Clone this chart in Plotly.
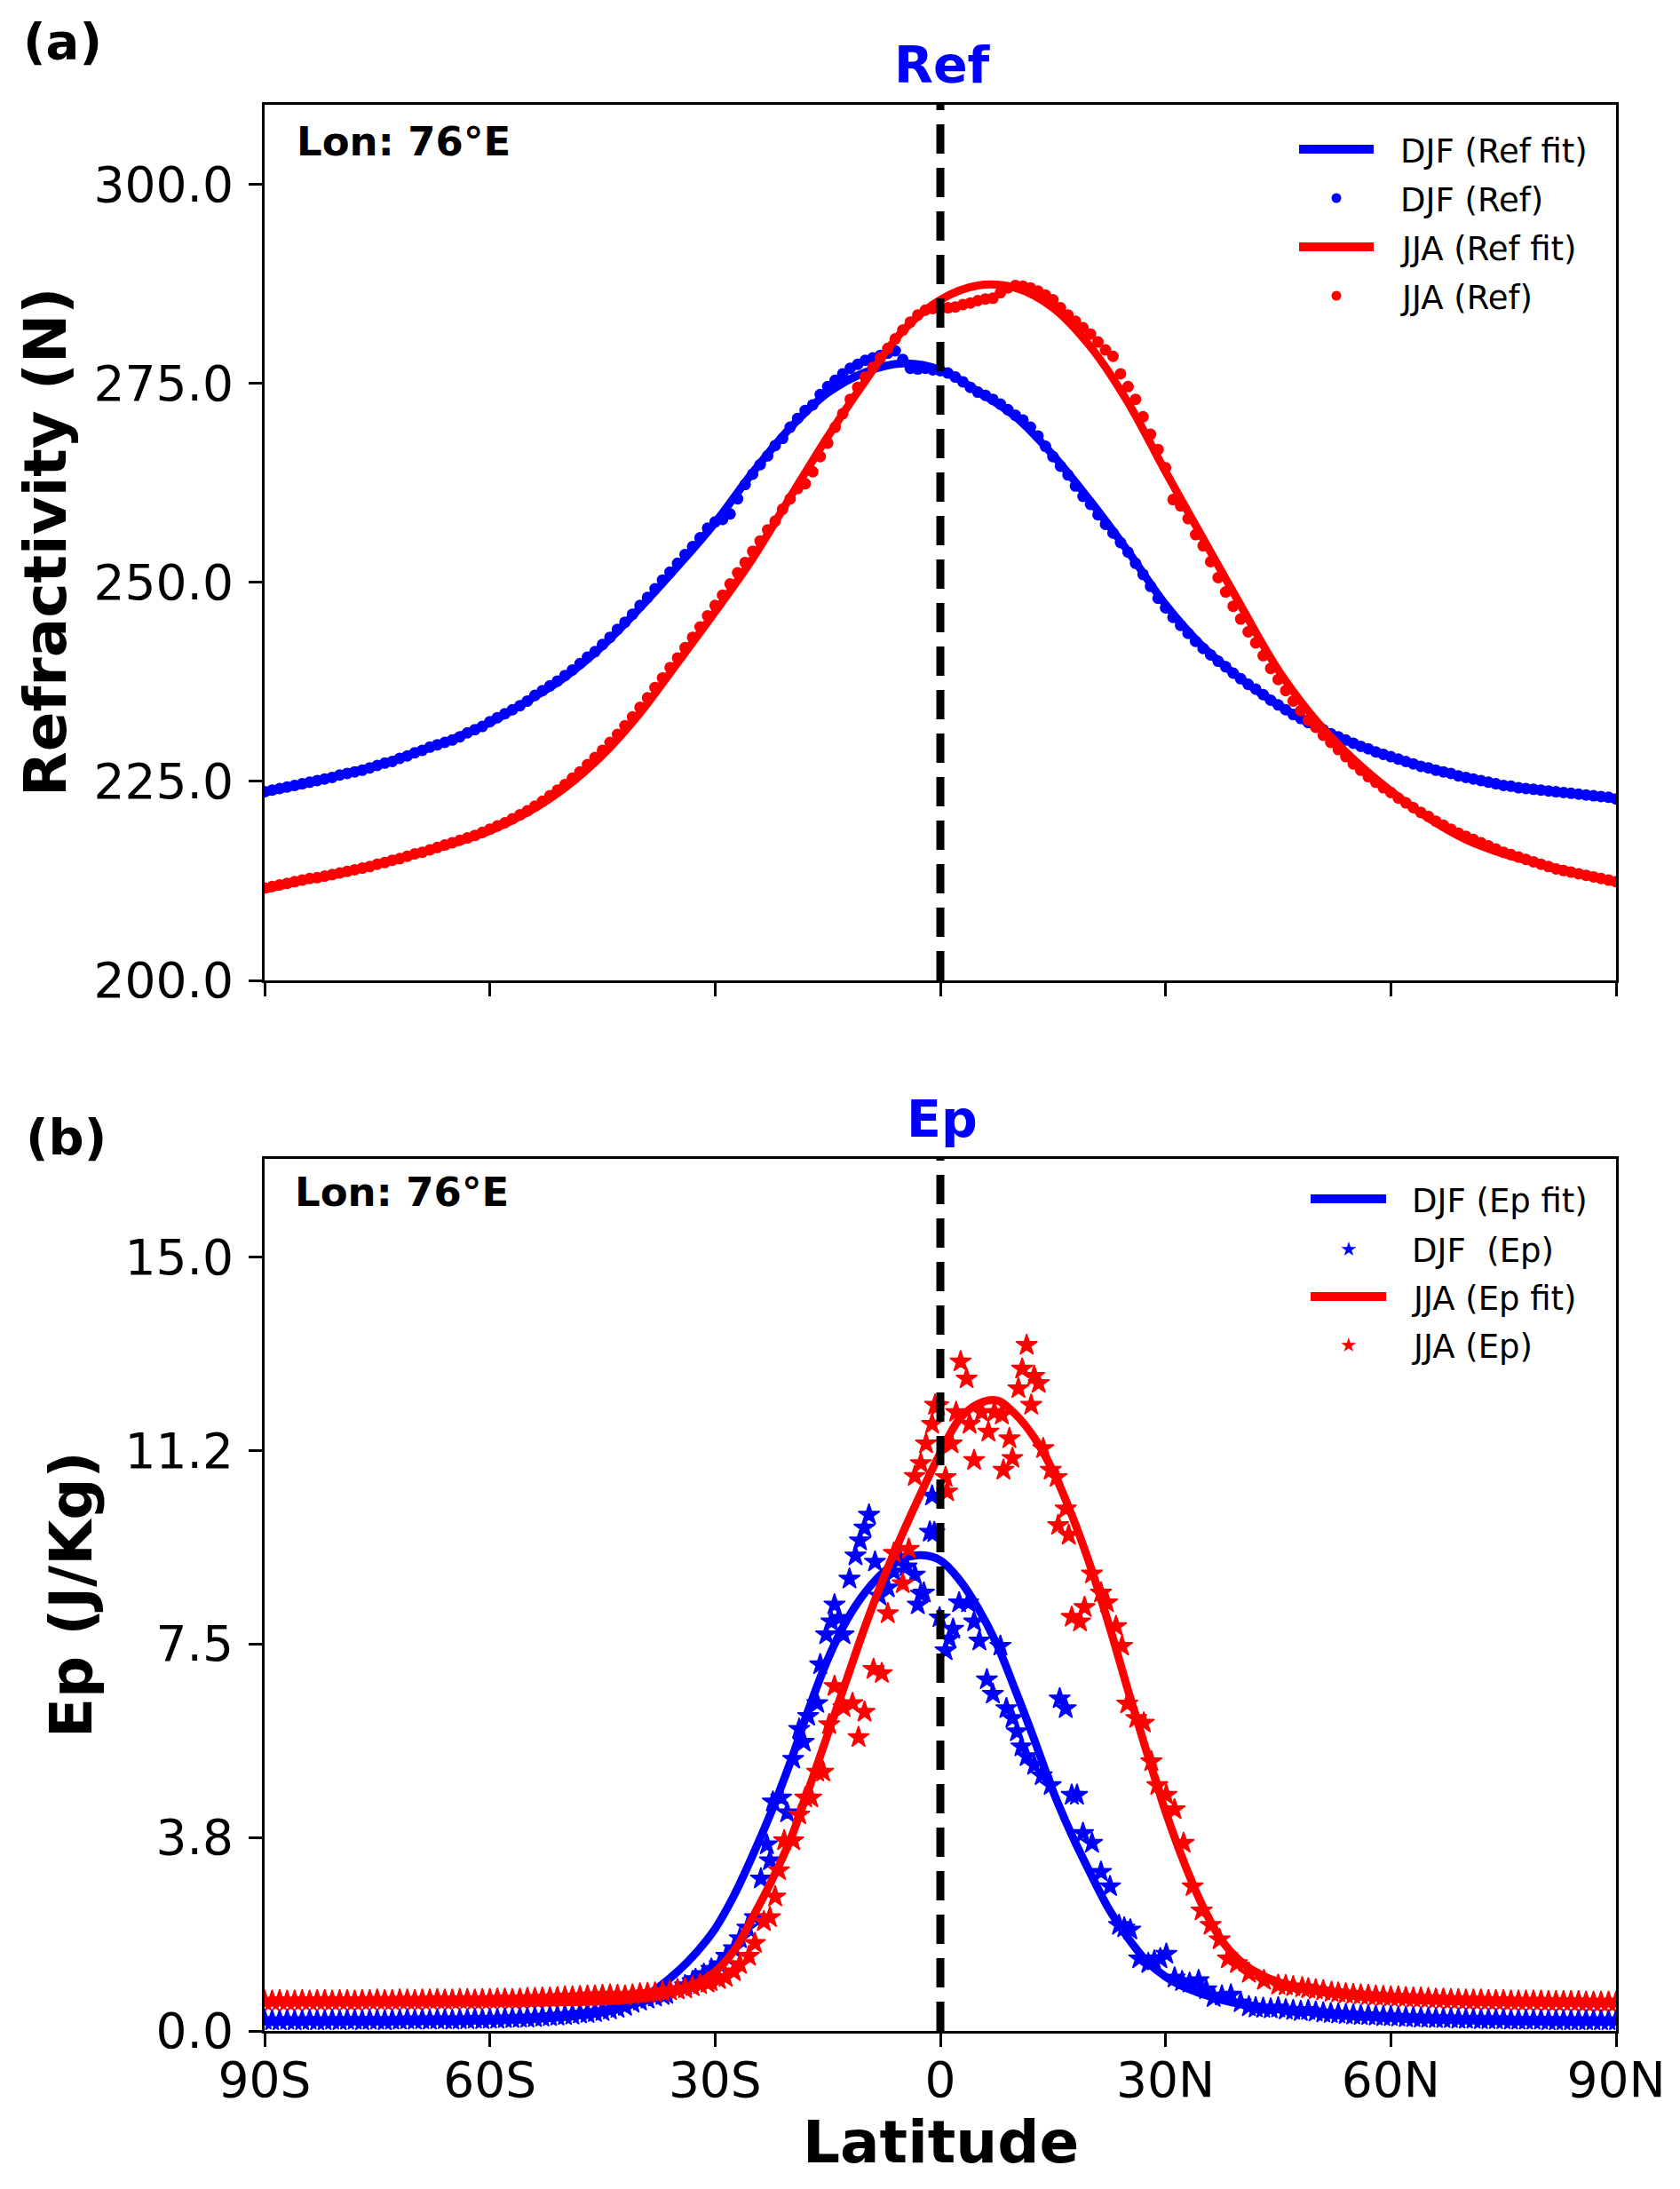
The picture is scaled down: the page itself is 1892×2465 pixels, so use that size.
import plotly.graph_objects as go
from plotly.subplots import make_subplots


#
# Figure size and styling
#

# the page is 1892x2465; the html body keeps its default 8px margin
PAGE_W, PAGE_H = 1892, 2465
BODY_MARGIN = 8
W, H = PAGE_W - 2 * BODY_MARGIN, PAGE_H - 2 * BODY_MARGIN
FONT = "DejaVu Sans"
BLUE = "#0000ff"
RED = "#ff0000"


#
# Data
#

LAT_TICKS = [-90, -60, -30, 0, 30, 60, 90]
LAT_LABELS = ["90S", "60S", "30S", "0", "30N", "60N", "90N"]

REF_TICKS = [200, 225, 250, 275, 300]
REF_TICK_LABELS = ["200.0", "225.0", "250.0", "275.0", "300.0"]
EP_TICKS = [0, 3.75, 7.5, 11.25, 15]
EP_TICK_LABELS = ["0.0", "3.8", "7.5", "11.2", "15.0"]

# Refractivity fits (5 deg grid)
REF_FIT_LAT = [-90, -85, -80, -75, -70, -65, -60, -55, -50, -45, -40, -35, -30,
               -25, -20, -15, -10, -5, 0, 5, 10, 15, 20, 25, 30, 35, 40, 45,
               50, 55, 60, 65, 70, 75, 80, 85, 90]
DJF_REF_FIT = [223.6, 224.6, 225.8, 227.0, 228.6, 230.3, 232.4, 235.1, 238.1, 242.0,
               246.8, 252.0, 257.5, 263.8, 269.4, 273.8, 276.4, 277.5, 276.7, 274.0,
               270.8, 266.0, 260.2, 253.9, 247.2, 241.9, 237.9, 234.6, 231.9, 229.8,
               228.1, 226.7, 225.5, 224.5, 223.9, 223.4, 222.8]
JJA_REF_FIT = [211.4, 212.5, 213.4, 214.6, 215.8, 217.2, 218.8, 221.1, 224.2, 228.3,
               233.6, 239.9, 246.3, 253.0, 260.7, 268.3, 275.3, 281.6, 285.5, 287.3,
               287.0, 284.5, 279.6, 272.6, 263.9, 255.5, 247.1, 239.0, 232.7, 227.8,
               223.8, 220.4, 217.7, 215.9, 214.6, 213.4, 212.3]

# Refractivity observations (1 deg grid, 90S..90N)
REF_LAT = list(range(-90, 91))
DJF_REF = [
    223.7, 223.9, 224.1, 224.3, 224.5, 224.7, 224.9, 225.1, 225.3, 225.5,
    225.8, 226.0, 226.2, 226.4, 226.7, 227.0, 227.3, 227.5, 227.9, 228.2,
    228.6, 228.9, 229.3, 229.6, 229.9, 230.2, 230.6, 231.1, 231.5, 231.9,
    232.5, 233.0, 233.5, 234.0, 234.5, 235.1, 235.8, 236.4, 237.0, 237.6,
    238.3, 239.0, 239.8, 240.6, 241.3, 242.2, 243.1, 244.1, 245.0, 246.0,
    247.1, 248.1, 249.2, 250.3, 251.3, 252.4, 253.5, 254.5, 255.6, 256.8,
    257.6, 257.9, 258.6, 260.5, 262.3, 263.6, 264.8, 265.9, 267.2, 268.1,
    269.5, 270.6, 271.6, 272.3, 273.6, 274.6, 275.4, 276.2, 276.9, 277.4,
    277.9, 278.2, 278.5, 278.8, 279.1, 278.0, 276.9, 276.8, 276.9, 276.7,
    276.6, 276.3, 275.8, 275.2, 274.5, 273.9, 273.5, 273.0, 272.4, 271.7,
    271.0, 270.4, 269.5, 268.4, 267.1, 265.8, 264.6, 263.5, 262.1, 260.8,
    259.8, 258.5, 257.3, 256.2, 255.0, 253.8, 252.4, 251.0, 249.5, 248.0,
    246.8, 245.6, 244.6, 243.6, 242.6, 241.7, 240.9, 240.1, 239.4, 238.6,
    237.9, 237.2, 236.6, 235.9, 235.2, 234.6, 234.0, 233.4, 232.9, 232.4,
    231.9, 231.5, 231.0, 230.6, 230.2, 229.8, 229.4, 229.1, 228.7, 228.4,
    228.1, 227.8, 227.5, 227.2, 226.9, 226.7, 226.4, 226.2, 226.0, 225.7,
    225.5, 225.3, 225.1, 224.9, 224.7, 224.5, 224.4, 224.2, 224.1, 224.0,
    223.9, 223.8, 223.7, 223.6, 223.5, 223.4, 223.3, 223.2, 223.1, 223.0,
    222.8,
]
JJA_REF = [
    211.6, 211.8, 212.0, 212.2, 212.4, 212.6, 212.8, 212.9, 213.1, 213.3,
    213.5, 213.7, 213.9, 214.1, 214.3, 214.6, 214.8, 215.1, 215.3, 215.6,
    215.9, 216.1, 216.4, 216.7, 217.0, 217.3, 217.6, 217.9, 218.2, 218.6,
    219.0, 219.4, 219.8, 220.3, 220.8, 221.3, 221.9, 222.5, 223.2, 223.9,
    224.6, 225.4, 226.2, 227.1, 228.0, 228.9, 229.9, 230.9, 232.0, 233.1,
    234.3, 235.5, 236.8, 238.0, 239.3, 240.5, 241.8, 243.1, 244.4, 245.8,
    247.1, 248.4, 249.8, 251.2, 252.5, 253.9, 255.2, 256.6, 257.7, 259.2,
    260.5, 261.8, 262.4, 263.9, 265.8, 267.5, 269.5, 271.2, 273.0, 274.5,
    275.8, 277.0, 278.2, 279.4, 280.6, 281.7, 282.7, 283.6, 284.2, 284.4,
    284.4, 284.5, 284.6, 284.9, 285.1, 285.4, 285.6, 285.7, 286.4, 287.0,
    287.3, 287.2, 287.0, 286.6, 286.1, 285.5, 284.5, 283.6, 282.8, 282.0,
    281.2, 280.2, 279.2, 278.4, 276.2, 274.6, 273.0, 270.8, 268.6, 266.7,
    264.4, 260.4, 259.6, 258.0, 256.0, 254.6, 252.6, 250.6, 248.8, 247.0,
    245.4, 243.8, 242.4, 240.8, 239.2, 237.8, 236.4, 235.1, 233.9, 232.7,
    231.8, 230.8, 229.9, 229.0, 228.1, 227.2, 226.4, 225.6, 224.9, 224.2,
    223.6, 222.9, 222.3, 221.7, 221.1, 220.6, 220.0, 219.5, 219.0, 218.5,
    218.1, 217.7, 217.3, 216.9, 216.5, 216.1, 215.8, 215.5, 215.2, 214.9,
    214.6, 214.3, 214.0, 213.8, 213.6, 213.4, 213.2, 213.0, 212.8, 212.6,
    212.4,
]

# Ep fits
EP_FIT_LAT = [-90, -80, -70, -60, -55, -50, -45, -40, -37.5, -35, -32.5, -30,
              -27.5, -25, -22.5, -20, -17.5, -15, -12.5, -10, -7.5, -5, -2.5, 0,
              2.5, 5, 7.5, 10, 12.5, 15, 17.5, 20, 22.5, 25, 27.5, 30, 32.5, 35,
              37.5, 40, 42.5, 45, 50, 55, 60, 70, 80, 90]
DJF_EP_FIT = [0.20, 0.20, 0.20, 0.21, 0.23, 0.28, 0.38, 0.62, 0.85, 1.15, 1.52, 1.98,
              2.62, 3.40, 4.25, 5.20, 6.25, 7.20, 7.95, 8.50, 8.90, 9.15, 9.22, 9.12,
              8.75, 8.20, 7.50, 6.60, 5.65, 4.65, 3.80, 3.05, 2.35, 1.80, 1.35, 1.05,
              0.85, 0.71, 0.60, 0.52, 0.47, 0.42, 0.36, 0.31, 0.27, 0.23, 0.21, 0.20]
JJA_EP_FIT = [0.55, 0.55, 0.55, 0.55, 0.55, 0.56, 0.57, 0.63, 0.69, 0.78, 0.92, 1.15,
              1.55, 2.20, 2.90, 3.70, 4.70, 5.75, 6.80, 7.85, 8.80, 9.65, 10.45, 11.20,
              11.85, 12.15, 12.22, 11.95, 11.50, 10.85, 10.00, 9.00, 7.85, 6.60, 5.40, 4.25,
              3.25, 2.40, 1.75, 1.35, 1.10, 0.95, 0.78, 0.68, 0.62, 0.57, 0.55, 0.55]

# Ep observations: polar tails on a 1 deg grid, tropics as read
EP_SOUTH_LAT = list(range(-90, -42))
EP_NORTH_LAT = list(range(53, 91))

DJF_EP_SOUTH = [0.21, 0.20, 0.20, 0.21, 0.20, 0.20, 0.21, 0.20, 0.20, 0.21,
                0.20, 0.21, 0.21, 0.20, 0.21, 0.21, 0.20, 0.21, 0.21, 0.22,
                0.21, 0.22, 0.21, 0.22, 0.22, 0.21, 0.22, 0.22, 0.23, 0.22,
                0.23, 0.23, 0.24, 0.24, 0.25, 0.25, 0.26, 0.27, 0.28, 0.29,
                0.30, 0.31, 0.33, 0.34, 0.36, 0.38, 0.41, 0.44]
DJF_EP_MID_LAT = [-42, -41, -40, -39, -38, -37, -36.5, -35, -34, -33,
                  -32.6, -31.5, -30.5, -29.4, -28.5, -27.5, -26.7, -25.7, -24.7, -23.9,
                  -23.1, -22.7, -22.3, -21.2, -20.4, -19.6, -18.8, -18.2, -17.6, -16.4,
                  -16.0, -15.2, -14.5, -14.1, -13.5, -12.9, -12.1, -11.3, -10.7, -10.1,
                  -9.5, -8.7, -8.1, -7.0, -6.2, -5.4, -4.5, -3.4, -3.0, -2.6,
                  -2.2, -1.4, -1.1, -0.8, -0.1, 0.7, 1.2, 1.7, 2.5, 3.7,
                  4.5, 5.2, 6.2, 7.0, 8.0, 8.8, 9.6, 10.2, 10.8, 11.5,
                  12.5, 13.5, 14.7, 15.9, 16.7, 17.5, 18.2, 19.0, 20.2, 21.4,
                  22.6, 23.8, 24.5, 25.3, 26.5, 27.7, 28.5, 29.3, 30.1, 31.2,
                  32.2, 33.2, 34.4, 35.4, 36.4, 37.5, 38.7, 40.0, 41.1, 42,
                  43, 44, 45, 46, 47, 48, 49, 50, 51, 52]
DJF_EP_MID = [0.48, 0.54, 0.58, 0.62, 0.66, 0.69, 0.71, 0.80, 0.88, 0.96,
              1.00, 1.10, 1.20, 1.29, 1.45, 1.60, 1.79, 2.00, 2.20, 2.95,
              3.61, 3.30, 4.44, 4.52, 4.23, 5.27, 5.85, 5.60, 6.10, 6.35,
              7.10, 7.68, 7.93, 8.26, 8.00, 7.68, 8.76, 9.21, 9.50, 9.75,
              10.00, 9.09, 8.43, 8.59, 8.90, 9.17, 9.00, 8.84, 8.26, 8.47,
              8.49, 9.67, 10.37, 9.66, 8.01, 7.37, 7.60, 7.79, 8.30, 8.30,
              7.93, 7.56, 6.81, 6.53, 7.46, 6.25, 6.06, 5.80, 5.51, 5.32,
              5.15, 4.95, 4.76, 6.44, 6.25, 4.57, 4.57, 3.83, 3.64, 3.08,
              2.80, 2.05, 2.00, 1.96, 1.40, 1.31, 1.36, 1.40, 1.49, 1.03,
              0.96, 0.93, 0.98, 0.80, 0.65, 0.68, 0.70, 0.55, 0.47, 0.45,
              0.44, 0.43, 0.45, 0.41, 0.40, 0.38, 0.40, 0.37, 0.35, 0.34]
DJF_EP_NORTH = [0.33, 0.32, 0.31, 0.30, 0.30, 0.29, 0.28, 0.28, 0.27, 0.26,
                0.26, 0.25, 0.25, 0.24, 0.24, 0.24, 0.23, 0.23, 0.23, 0.22,
                0.22, 0.22, 0.22, 0.21, 0.21, 0.21, 0.21, 0.21, 0.20, 0.20,
                0.20, 0.20, 0.20, 0.20, 0.20, 0.20, 0.20, 0.20]

JJA_EP_SOUTH = [0.58, 0.58, 0.59, 0.58, 0.58, 0.59, 0.58, 0.59, 0.59, 0.58,
                0.59, 0.59, 0.58, 0.59, 0.59, 0.60, 0.59, 0.59, 0.60, 0.60,
                0.59, 0.60, 0.60, 0.61, 0.60, 0.60, 0.61, 0.61, 0.60, 0.61,
                0.61, 0.62, 0.62, 0.61, 0.62, 0.63, 0.63, 0.64, 0.64, 0.65,
                0.66, 0.66, 0.67, 0.68, 0.68, 0.69, 0.70, 0.69]
JJA_EP_MID_LAT = [-42, -41, -40, -39, -38, -37, -36, -35, -34, -33,
                  -32, -31, -30.6, -29.5, -28.6, -27.5, -26.7, -25.5, -24.7, -23.5,
                  -22.7, -22.0, -21.5, -20.8, -19.6, -18.8, -18.0, -17.2, -16.4, -15.6,
                  -14.8, -14.1, -12.9, -11.7, -10.9, -10.1, -8.9, -7.8, -7.0, -6.2,
                  -5.0, -4.2, -3.4, -2.6, -1.9, -1.1, -0.7, -0.3, 0.7, 0.9,
                  1.5, 2.1, 2.7, 3.5, 3.9, 4.5, 5.5, 6.4, 7.2, 8.2,
                  8.4, 9.2, 9.6, 10.4, 10.9, 11.5, 12.1, 12.5, 13.1, 13.7,
                  14.7, 15.5, 15.7, 16.7, 17.1, 17.5, 18.6, 19.2, 20.2, 21.4,
                  22.2, 23.4, 24.2, 24.9, 26.1, 27.1, 28.1, 28.9, 30.1, 31.2,
                  32.4, 33.6, 34.8, 36.0, 37.2, 38.3, 39.5, 41.1, 43.1, 45.0,
                  46, 47, 48.2, 49, 50, 51, 52.1]
JJA_EP_MID = [0.68, 0.70, 0.72, 0.73, 0.74, 0.76, 0.78, 0.80, 0.82, 0.86,
              0.90, 0.93, 0.96, 1.00, 1.04, 1.15, 1.29, 1.45, 1.70, 2.12,
              2.20, 2.60, 3.11, 3.69, 3.69, 4.19, 4.52, 4.52, 5.02, 5.02,
              5.94, 6.68, 6.27, 6.35, 5.69, 6.18, 7.01, 6.93, 8.09, 9.26,
              8.67, 9.34, 10.75, 11.00, 11.38, 11.76, 12.13, 12.12, 10.73, 10.45,
              11.38, 11.99, 12.97, 12.64, 11.76, 11.06, 11.99, 11.61, 11.99, 11.94,
              10.87, 11.48, 11.10, 12.45, 12.83, 13.29, 12.13, 12.69, 12.55, 11.29,
              10.87, 10.73, 9.80, 10.12, 9.61, 8.02, 7.93, 8.21, 8.86, 8.49,
              8.30, 7.84, 7.46, 6.34, 6.06, 5.97, 5.22, 4.76, 4.57, 4.29,
              3.64, 2.80, 2.33, 2.05, 1.77, 1.40, 1.31, 1.12, 0.98, 0.89,
              0.88, 0.86, 0.84, 0.82, 0.80, 0.78, 0.75]
JJA_EP_NORTH = [0.74, 0.72, 0.71, 0.70, 0.69, 0.68, 0.67, 0.66, 0.66, 0.65,
                0.64, 0.64, 0.63, 0.62, 0.62, 0.61, 0.61, 0.60, 0.60, 0.60,
                0.59, 0.59, 0.59, 0.58, 0.58, 0.58, 0.58, 0.58, 0.57, 0.57,
                0.57, 0.57, 0.57, 0.56, 0.56, 0.56, 0.56, 0.56]


#
# Page pixel -> paper helpers (layout only)
#

def px(x):
    return (x - BODY_MARGIN) / W


def py(y):
    return 1 - (y - BODY_MARGIN) / H


def text(fig, s, x, y, size, color="black", bold=False, xanchor="left", angle=0):
    fig.add_annotation(
        text=s, x=px(x), y=py(y), xref="paper", yref="paper",
        xanchor=xanchor, yanchor="middle", showarrow=False, textangle=angle,
        font=dict(family=FONT, size=size, color=color, weight="bold" if bold else "normal"),
    )


def legend(fig, rows, x0, x1, xtext, entries):
    # entries: (label, color, kind) with kind 'line', 'dot' or 'star'
    for ypos, (label, color, kind) in zip(rows, entries):
        if kind == "line":
            fig.add_shape(type="line", xref="paper", yref="paper",
                          x0=px(x0), x1=px(x1), y0=py(ypos), y1=py(ypos),
                          line=dict(color=color, width=10))
        elif kind == "dot":
            xc = (x0 + x1) / 2
            fig.add_shape(type="circle", xref="paper", yref="paper",
                          x0=px(xc - 5.5), x1=px(xc + 5.5), y0=py(ypos + 5.5), y1=py(ypos - 5.5),
                          fillcolor=color, line=dict(width=0))
        else:
            text(fig, "\u2605", (x0 + x1) / 2, ypos, 22, color=color, xanchor="center")
        text(fig, label, xtext, ypos + 2, 37)


#
# Build figure
#

fig = make_subplots(rows=2, cols=1)

# (a) Refractivity
fig.add_trace(go.Scatter(x=REF_FIT_LAT, y=DJF_REF_FIT, mode="lines", name="DJF (Ref fit)",
                         line=dict(color=BLUE, width=9, shape="spline")), row=1, col=1)
fig.add_trace(go.Scatter(x=REF_LAT, y=DJF_REF, mode="markers", name="DJF (Ref)",
                         marker=dict(color=BLUE, size=13, line=dict(width=0))), row=1, col=1)
fig.add_trace(go.Scatter(x=REF_FIT_LAT, y=JJA_REF_FIT, mode="lines", name="JJA (Ref fit)",
                         line=dict(color=RED, width=9, shape="spline")), row=1, col=1)
fig.add_trace(go.Scatter(x=REF_LAT, y=JJA_REF, mode="markers", name="JJA (Ref)",
                         marker=dict(color=RED, size=13, line=dict(width=0))), row=1, col=1)

# (b) Ep
djf_ep_lat = EP_SOUTH_LAT + DJF_EP_MID_LAT + EP_NORTH_LAT
djf_ep = DJF_EP_SOUTH + DJF_EP_MID + DJF_EP_NORTH
jja_ep_lat = EP_SOUTH_LAT + JJA_EP_MID_LAT + EP_NORTH_LAT
jja_ep = JJA_EP_SOUTH + JJA_EP_MID + JJA_EP_NORTH

fig.add_trace(go.Scatter(x=EP_FIT_LAT, y=DJF_EP_FIT, mode="lines", name="DJF (Ep fit)",
                         line=dict(color=BLUE, width=9, shape="spline")), row=2, col=1)
fig.add_trace(go.Scatter(x=djf_ep_lat, y=djf_ep, mode="markers", name="DJF  (Ep)",
                         marker=dict(color=BLUE, size=18, symbol="star",
                                     line=dict(width=1.5, color=BLUE))), row=2, col=1)
fig.add_trace(go.Scatter(x=EP_FIT_LAT, y=JJA_EP_FIT, mode="lines", name="JJA (Ep fit)",
                         line=dict(color=RED, width=9, shape="spline")), row=2, col=1)
fig.add_trace(go.Scatter(x=jja_ep_lat, y=jja_ep, mode="markers", name="JJA (Ep)",
                         marker=dict(color=RED, size=18, symbol="star",
                                     line=dict(width=1.5, color=RED))), row=2, col=1)

axis_style = dict(
    showline=True, linecolor="black", linewidth=3, mirror=True,
    ticks="outside", ticklen=15, tickwidth=3, tickcolor="black",
    showgrid=False, zeroline=False, automargin=False,
    tickfont=dict(family=FONT, size=55, color="black"),
)
fig.update_xaxes(range=[-90, 90], tickvals=LAT_TICKS, ticktext=LAT_LABELS, **axis_style)
fig.update_xaxes(showticklabels=False, row=1, col=1)
fig.update_xaxes(ticklabelstandoff=-10, row=2, col=1)
fig.update_yaxes(range=[200, 310], tickvals=REF_TICKS, ticktext=REF_TICK_LABELS,
                 ticklabelstandoff=6, **axis_style, row=1, col=1)
fig.update_yaxes(range=[0, 16.9], tickvals=EP_TICKS, ticktext=EP_TICK_LABELS,
                 ticklabelstandoff=6, **axis_style, row=2, col=1)

# Equator marker
for xr, yr in (("x", "y domain"), ("x2", "y2 domain")):
    fig.add_shape(type="line", xref=xr, yref=yr, x0=0, x1=0, y0=0, y1=1, layer="above",
                  line=dict(color="black", width=9, dash="33px,16px"))

# Panel labels and titles
text(fig, "(a)", 24, 47, 56, bold=True)
text(fig, "(b)", 27, 1280, 56, bold=True)
text(fig, "Ref", 1061, 73, 57, color=BLUE, bold=True, xanchor="center")
text(fig, "Ep", 1061, 1260, 57, color=BLUE, bold=True, xanchor="center")
text(fig, "Lon: 76°E", 332, 160, 45, bold=True)
text(fig, "Lon: 76°E", 330, 1342, 45, bold=True)
text(fig, "Refractivity (N)", 52, 611, 66, bold=True, xanchor="center", angle=-90)
text(fig, "Ep (J/Kg)", 80, 1796, 66, bold=True, xanchor="center", angle=-90)
text(fig, "Latitude", 1059, 2412, 66, bold=True, xanchor="center")

legend(fig, [168, 223, 278, 333], 1463, 1547, 1575, [
    ("DJF (Ref fit)", BLUE, "line"),
    ("DJF (Ref)", BLUE, "dot"),
    ("JJA (Ref fit)", RED, "line"),
    ("JJA (Ref)", RED, "dot"),
])
legend(fig, [1350, 1406, 1460, 1514], 1476, 1561, 1588, [
    ("DJF (Ep fit)", BLUE, "line"),
    ("DJF\u00a0 (Ep)", BLUE, "star"),
    ("JJA (Ep fit)", RED, "line"),
    ("JJA (Ep)", RED, "star"),
])

fig.update_layout(
    width=W, height=H, autosize=False,
    margin=dict(l=0, r=0, t=0, b=0),
    paper_bgcolor="white", plot_bgcolor="white",
    showlegend=False,
    font=dict(family=FONT, color="black"),
    xaxis=dict(domain=[px(298), px(1820)]),
    xaxis2=dict(domain=[px(298), px(1820)]),
    yaxis=dict(domain=[py(1104), py(118)]),
    yaxis2=dict(domain=[py(2287), py(1305)]),
)

fig.write_html("out.html")
